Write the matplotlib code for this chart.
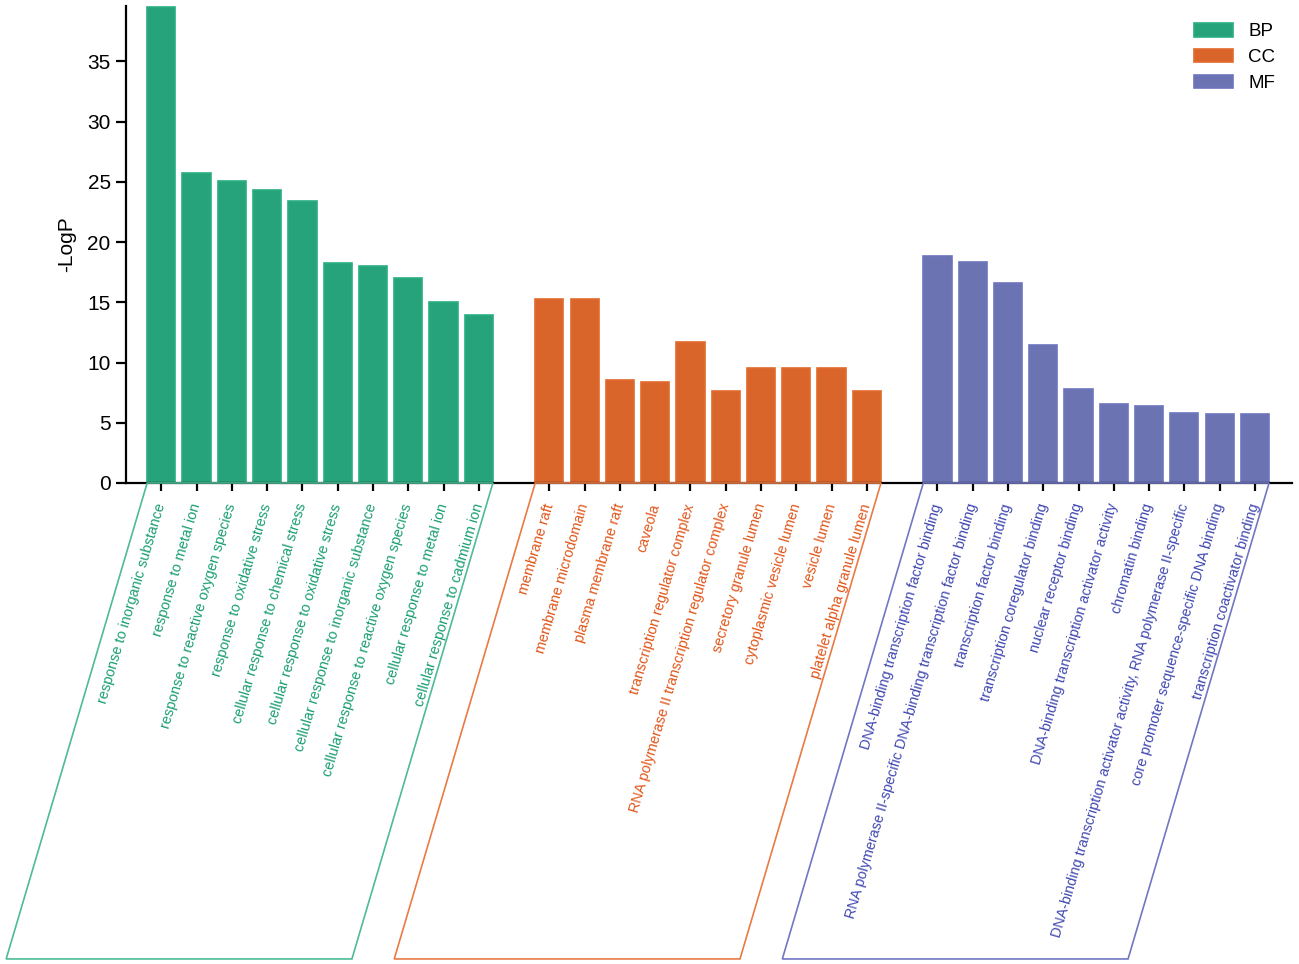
import numpy as np
import matplotlib
matplotlib.use('Agg')
import matplotlib.pyplot as plt
from matplotlib.patches import Polygon
from matplotlib.transforms import IdentityTransform

plt.rcParams['font.family'] = ['Liberation Sans', 'DejaVu Sans']

# GO terms and -LogP values
bp_terms = ['response to inorganic substance', 'response to metal ion',
            'response to reactive oxygen species', 'response to oxidative stress',
            'cellular response to chemical stress', 'cellular response to oxidative stress',
            'cellular response to inorganic substance', 'cellular response to reactive oxygen species',
            'cellular response to metal ion', 'cellular response to cadmium ion']
bp_vals = [39.5, 25.7, 25.1, 24.35, 23.4, 18.26, 18.04, 17.0, 15.0, 13.94]

cc_terms = ['membrane raft', 'membrane microdomain', 'plasma membrane raft', 'caveola',
            'transcription regulator complex', 'RNA polymerase II transcription regulator complex',
            'secretory granule lumen', 'cytoplasmic vesicle lumen', 'vesicle lumen',
            'platelet alpha granule lumen']
cc_vals = [15.3, 15.25, 8.58, 8.36, 11.68, 7.61, 9.57, 9.55, 9.52, 7.61]

mf_terms = ['DNA-binding transcription factor binding',
            'RNA polymerase II-specific DNA-binding transcription factor binding',
            'transcription factor binding', 'transcription coregulator binding',
            'nuclear receptor binding', 'DNA-binding transcription activator activity',
            'chromatin binding',
            'DNA-binding transcription activator activity, RNA polymerase II-specific',
            'core promoter sequence-specific DNA binding', 'transcription coactivator binding']
mf_vals = [18.87, 18.37, 16.57, 11.43, 7.83, 6.56, 6.39, 5.78, 5.76, 5.76]

groups = ['BP', 'CC', 'MF']
bar_colors = ['#26a37b', '#d9652a', '#6b73b3']
edge_colors = ['#2aae81', '#e26a2c', '#6d76bd']
text_colors = ['#1a9e72', '#e0561a', '#4048b0']
box_colors = ['#4dbb95', '#ea7a45', '#7077c2']

fig = plt.figure(figsize=(12.99, 9.64), dpi=100)
ax = fig.add_axes([0.097, 0.499, 0.8976, 0.4948])

width = 0.8
angle = 73.5
all_pos, all_terms, all_cols = [], [], []
spans = []
start = 0
for terms, vals, g, bc, ec, tc in zip([bp_terms, cc_terms, mf_terms],
                                      [bp_vals, cc_vals, mf_vals],
                                      groups, bar_colors, edge_colors, text_colors):
    x = np.arange(len(vals)) + start
    ax.bar(x, vals, width=width, color=bc, edgecolor=ec, linewidth=1.2, label=g)
    all_pos += list(x)
    all_terms += terms
    all_cols += [tc] * len(terms)
    spans.append((x[0] - width / 2, x[-1] + width / 2))
    start += len(vals) + 1

ax.set_xlim(-1, 32.05)
ax.set_ylim(0, 39.6)
ax.set_yticks(np.arange(0, 36, 5))
ax.set_xticks(all_pos)
ax.set_xticklabels(all_terms, rotation=angle, ha='right', va='center',
                   rotation_mode='anchor', fontsize=10.4)
for lab, c in zip(ax.get_xticklabels(), all_cols):
    lab.set_color(c)

ax.spines['top'].set_visible(False)
ax.spines['right'].set_visible(False)
ax.spines['left'].set_linewidth(1.6)
ax.spines['bottom'].set_linewidth(1.6)
ax.tick_params(axis='y', labelsize=15, width=1.6, length=7, pad=4)
ax.tick_params(axis='x', width=1.6, length=6, pad=9)
ax.set_ylabel('-LogP', fontsize=15, labelpad=8)

ax.legend(loc='upper right', frameon=False, fontsize=13.5, handlelength=2.1,
          handleheight=0.75, labelspacing=0.45, handletextpad=0.8,
          bbox_to_anchor=(1.0, 1.0))

# parallelogram frames around each group's labels
fig.canvas.draw()
drop = 476
shift = drop / np.tan(np.radians(angle))
for (x0, x1), c in zip(spans, box_colors):
    tl = ax.transData.transform((x0, 0))
    tr = ax.transData.transform((x1, 0))
    pts = [tl, tr, (tr[0] - shift, tr[1] - drop), (tl[0] - shift, tl[1] - drop)]
    fig.add_artist(Polygon(pts, closed=True, fill=False, edgecolor=c,
                           linewidth=1.2, transform=IdentityTransform()))

plt.savefig('out.png', dpi=100)
